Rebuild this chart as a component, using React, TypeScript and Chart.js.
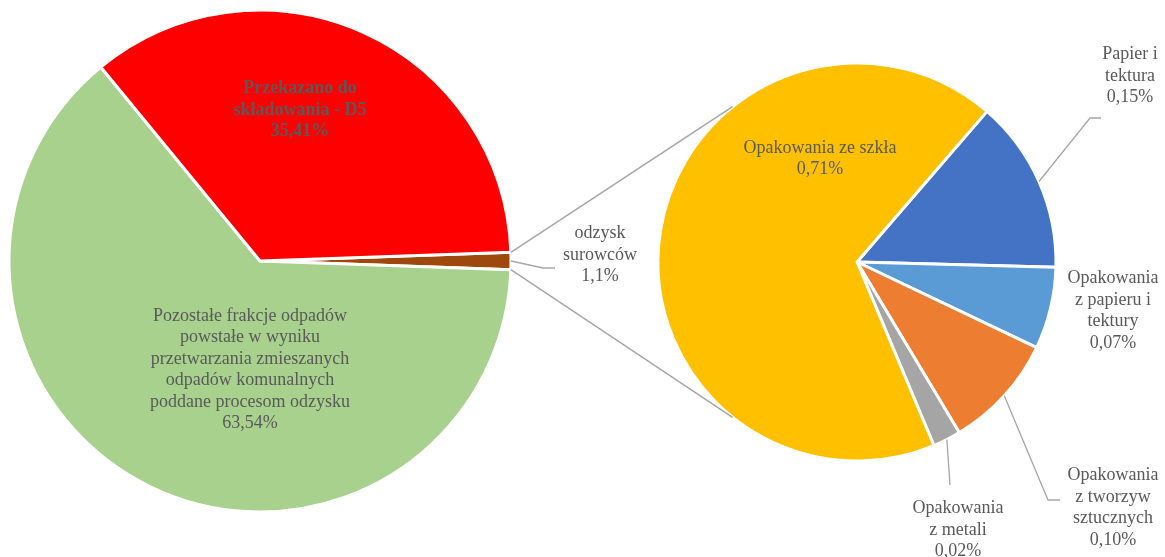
import React, { useEffect, useRef } from "react";
import { Chart, registerables } from "chart.js";

Chart.register(...registerables);

const W = 1165;
const H = 557;

// ---- Data: main pie ----
const leftCategories = [
  "odzysk surowców",
  "Pozostałe frakcje odpadów powstałe w wyniku przetwarzania zmieszanych odpadów komunalnych poddane procesom odzysku",
  "Przekazano do składowania - D5",
];
const leftValues = [1.1, 63.54, 35.41];
const leftDecimals = [1, 2, 2];
const leftLabelLines = [
  ["odzysk", "surowców"],
  [
    "Pozostałe frakcje odpadów",
    "powstałe w wyniku",
    "przetwarzania zmieszanych",
    "odpadów komunalnych",
    "poddane procesom odzysku",
  ],
  ["Przekazano do", "składowania - D5"],
];
const leftColors = ["#9E480E", "#A9D18E", "#FF0000"];

// ---- Data: secondary pie (breakdown of "odzysk surowców") ----
const rightCategories = [
  "Papier i tektura",
  "Opakowania z papieru i tektury",
  "Opakowania z tworzyw sztucznych",
  "Opakowania z metali",
  "Opakowania ze szkła",
];
const rightValues = [0.148, 0.07, 0.098, 0.024, 0.711];
const rightDecimals = [2, 2, 2, 2, 2];
const rightLabelLines = [
  ["Papier i", "tektura"],
  ["Opakowania", "z papieru i", "tektury"],
  ["Opakowania", "z tworzyw", "sztucznych"],
  ["Opakowania", "z metali"],
  ["Opakowania ze szkła"],
];
const rightColors = ["#4472C4", "#5B9BD5", "#ED7D31", "#A5A5A5", "#FFC000"];

type LabelLayout = { dx: number; dy: number; bold?: boolean; leader?: [number, number][] };

// label block centres, relative to each pie's centre
const leftLayout: LabelLayout[] = [
  { dx: 340, dy: -6, leader: [[283, 7], [295, 7]] },
  { dx: -10, dy: 109 },
  { dx: 40, dy: -151, bold: true },
];
const rightLayout: LabelLayout[] = [
  { dx: 273, dy: -186, leader: [[233, -144], [244, -144]] },
  { dx: 256, dy: 49 },
  { dx: 256, dy: 246, leader: [[191, 238], [203, 238]] },
  { dx: 101, dy: 268, leader: [[93, 223]] },
  { dx: -37, dy: -103 },
];

const TEXT_COLOR = "#595959";
const LINE_COLOR = "#A6A6A6";
const FONT_FAMILY = '"Liberation Serif", "Times New Roman", serif';

const fmt = (v: number, d: number) => v.toFixed(d).replace(".", ",") + "%";

function makeLabelPlugin(lines: string[][], values: number[], decimals: number[], layout: LabelLayout[]) {
  return {
    id: "sliceLabels",
    afterDatasetsDraw(chart: any) {
      const ctx: CanvasRenderingContext2D = chart.ctx;
      const meta = chart.getDatasetMeta(0);
      ctx.save();
      meta.data.forEach((arc: any, i: number) => {
        const p = arc.getProps(["x", "y", "startAngle", "endAngle", "outerRadius"], true);
        const lay = layout[i];
        const cx = p.x;
        const cy = p.y;
        if (lay.leader) {
          const mid = (p.startAngle + p.endAngle) / 2;
          ctx.beginPath();
          ctx.moveTo(cx + Math.cos(mid) * p.outerRadius, cy + Math.sin(mid) * p.outerRadius);
          lay.leader.forEach(([lx, ly]) => ctx.lineTo(cx + lx, cy + ly));
          ctx.strokeStyle = LINE_COLOR;
          ctx.lineWidth = 1.3;
          ctx.stroke();
        }
        const text = [...lines[i], fmt(values[i], decimals[i])];
        ctx.font = `${lay.bold ? "bold " : ""}18px ${FONT_FAMILY}`;
        ctx.fillStyle = TEXT_COLOR;
        ctx.textAlign = "center";
        ctx.textBaseline = "middle";
        const lh = 21.5;
        const y0 = cy + lay.dy - ((text.length - 1) * lh) / 2;
        text.forEach((t, k) => ctx.fillText(t, cx + lay.dx, y0 + k * lh));
      });
      ctx.restore();
    },
  };
}

export default function App() {
  const leftRef = useRef<HTMLCanvasElement>(null);
  const rightRef = useRef<HTMLCanvasElement>(null);

  useEffect(() => {
    if (!leftRef.current || !rightRef.current) return;

    const leftChart = new Chart(leftRef.current, {
      type: "pie",
      data: {
        labels: leftCategories,
        datasets: [
          {
            data: leftValues,
            backgroundColor: leftColors,
            borderColor: "#FFFFFF",
            borderWidth: 3,
          },
        ],
      },
      options: {
        responsive: false,
        animation: false,
        devicePixelRatio: 1,
        events: [],
        rotation: 90 - (leftValues[0] / leftValues.reduce((a, b) => a + b, 0)) * 180,
        radius: 251,
        layout: { padding: { left: 0, right: W - 520, top: 0, bottom: H - 522 } },
        plugins: { legend: { display: false }, tooltip: { enabled: false } },
      } as any,
      plugins: [makeLabelPlugin(leftLabelLines, leftValues, leftDecimals, leftLayout)],
    });

    const connectorPlugin = {
      id: "pieConnectors",
      afterDatasetsDraw(chart: any) {
        const ctx: CanvasRenderingContext2D = chart.ctx;
        const src: any = leftChart.getDatasetMeta(0).data[0];
        const s = src.getProps(["x", "y", "startAngle", "endAngle", "outerRadius"], true);
        const dst: any = chart.getDatasetMeta(0).data[0];
        const d = dst.getProps(["x", "y", "outerRadius"], true);
        const a = (128.7 * Math.PI) / 180;
        const pts = [
          [s.x + Math.cos(s.startAngle) * s.outerRadius, s.y + Math.sin(s.startAngle) * s.outerRadius, d.x + Math.cos(-a) * d.outerRadius, d.y + Math.sin(-a) * d.outerRadius],
          [s.x + Math.cos(s.endAngle) * s.outerRadius, s.y + Math.sin(s.endAngle) * s.outerRadius, d.x + Math.cos(a) * d.outerRadius, d.y + Math.sin(a) * d.outerRadius],
        ];
        ctx.save();
        ctx.strokeStyle = LINE_COLOR;
        ctx.lineWidth = 1.5;
        pts.forEach(([x1, y1, x2, y2]) => {
          ctx.beginPath();
          ctx.moveTo(x1, y1);
          ctx.lineTo(x2, y2);
          ctx.stroke();
        });
        ctx.restore();
      },
    };

    const rightChart = new Chart(rightRef.current, {
      type: "pie",
      data: {
        labels: rightCategories,
        datasets: [
          {
            data: rightValues,
            backgroundColor: rightColors,
            borderColor: "#FFFFFF",
            borderWidth: 3,
          },
        ],
      },
      options: {
        responsive: false,
        animation: false,
        devicePixelRatio: 1,
        events: [],
        rotation: 40.8,
        radius: 199,
        layout: { padding: { left: 657, right: W - 1057, top: 62, bottom: H - 462 } },
        plugins: { legend: { display: false }, tooltip: { enabled: false } },
      } as any,
      plugins: [makeLabelPlugin(rightLabelLines, rightValues, rightDecimals, rightLayout), connectorPlugin],
    });

    return () => {
      rightChart.destroy();
      leftChart.destroy();
    };
  }, []);

  const canvasStyle: React.CSSProperties = {
    position: "absolute",
    left: 0,
    top: 0,
    width: W,
    height: H,
  };

  return (
    <div style={{ position: "fixed", left: 0, top: 0, width: W, height: H, background: "#FFFFFF" }}>
      <canvas ref={leftRef} width={W} height={H} style={canvasStyle} />
      <canvas ref={rightRef} width={W} height={H} style={canvasStyle} />
    </div>
  );
}
